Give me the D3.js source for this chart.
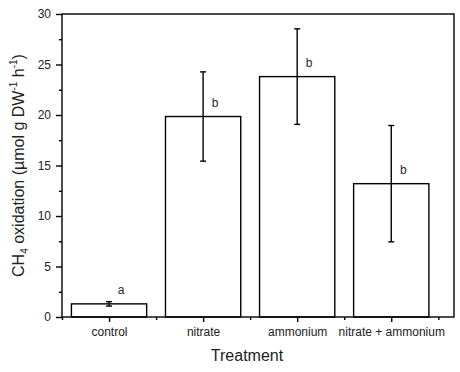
<!DOCTYPE html>
<html>
<head>
<meta charset="utf-8">
<script src="https://cdn.jsdelivr.net/npm/d3@7"></script>
<style>
  body { margin: 0; background: #fff; }
  svg { display: block; font-family: "Liberation Sans", Arial, sans-serif; }
</style>
</head>
<body>
<div id="chart"></div>
<script>
// Data
const treatments = ["control", "nitrate", "ammonium", "nitrate + ammonium"];
const means = [1.3, 19.85, 23.8, 13.2];
const errors = [0.22, 4.42, 4.73, 5.76];
const letters = ["a", "b", "b", "b"];
const yTicks = [0, 5, 10, 15, 20, 25, 30];

const width = 460, height = 372;
const margin = { top: 14, right: 6, bottom: 55, left: 62 };
const innerW = width - margin.left - margin.right;
const innerH = height - margin.top - margin.bottom;

const svg = d3.select("#chart").append("svg")
    .attr("width", width)
    .attr("height", height);

const g = svg.append("g")
    .attr("transform", `translate(${margin.left},${margin.top})`);

// Category positions 1..n on a linear scale (Origin-like layout)
const x = d3.scaleLinear().domain([0.5, 4.667]).range([0, innerW]);
const y = d3.scaleLinear().domain([0, 30]).range([innerH, 0]);
const barW = x(1.4) - x(0.6);

// Bars
g.selectAll("rect.bar")
    .data(means)
    .enter().append("rect")
    .attr("class", "bar")
    .attr("x", (d, i) => x(i + 1) - barW / 2)
    .attr("y", d => y(d))
    .attr("width", barW)
    .attr("height", d => innerH - y(d))
    .attr("fill", "#fff")
    .attr("stroke", "#000")
    .attr("stroke-width", 1.4);

// Error bars
const capW = 3;
const eb = g.selectAll("g.err")
    .data(means)
    .enter().append("g")
    .attr("class", "err")
    .attr("stroke", "#000")
    .attr("stroke-width", 1.4);
eb.append("line")
    .attr("x1", (d, i) => x(i + 1)).attr("x2", (d, i) => x(i + 1))
    .attr("y1", (d, i) => y(d + errors[i])).attr("y2", (d, i) => y(d - errors[i]));
eb.append("line")
    .attr("x1", (d, i) => x(i + 1) - capW).attr("x2", (d, i) => x(i + 1) + capW)
    .attr("y1", (d, i) => y(d + errors[i])).attr("y2", (d, i) => y(d + errors[i]));
eb.append("line")
    .attr("x1", (d, i) => x(i + 1) - capW).attr("x2", (d, i) => x(i + 1) + capW)
    .attr("y1", (d, i) => y(d - errors[i])).attr("y2", (d, i) => y(d - errors[i]));

// Significance letters
g.selectAll("text.letter")
    .data(means)
    .enter().append("text")
    .attr("class", "letter")
    .attr("x", (d, i) => x(i + 1) + 12)
    .attr("y", d => y(d) - 10)
    .attr("text-anchor", "middle")
    .attr("font-size", 12)
    .attr("fill", "#2a2a2a")
    .text((d, i) => letters[i]);

// Frame
g.append("rect")
    .attr("width", innerW)
    .attr("height", innerH)
    .attr("fill", "none")
    .attr("stroke", "#000")
    .attr("stroke-width", 1.4);

// Y axis: major ticks with labels, minor ticks between
const yAxis = g.append("g")
    .call(d3.axisLeft(y).tickValues(yTicks).tickSize(6).tickPadding(5));
yAxis.select(".domain").remove();
yAxis.selectAll(".tick line").attr("stroke", "#000").attr("stroke-width", 1.4);
yAxis.selectAll(".tick text").attr("font-size", 12).attr("fill", "#222")
    .attr("font-family", "'Liberation Sans', Arial, sans-serif");

const yMinor = g.append("g")
    .call(d3.axisLeft(y).tickValues(d3.range(2.5, 30, 5)).tickSize(3).tickFormat(""));
yMinor.select(".domain").remove();
yMinor.selectAll(".tick line").attr("stroke", "#000").attr("stroke-width", 1.4);

// X axis: category ticks with labels, minor ticks between
const xAxis = g.append("g")
    .attr("transform", `translate(0,${innerH})`)
    .call(d3.axisBottom(x).tickValues([1, 2, 3, 4]).tickSize(5).tickPadding(5)
        .tickFormat((d, i) => treatments[i]));
xAxis.select(".domain").remove();
xAxis.selectAll(".tick line").attr("stroke", "#000").attr("stroke-width", 1.4);
xAxis.selectAll(".tick text").attr("font-size", 12).attr("fill", "#222")
    .attr("font-family", "'Liberation Sans', Arial, sans-serif");

const xMinor = g.append("g")
    .attr("transform", `translate(0,${innerH})`)
    .call(d3.axisBottom(x).tickValues([0.5, 1.5, 2.5, 3.5, 4.5]).tickSize(3).tickFormat(""));
xMinor.select(".domain").remove();
xMinor.selectAll(".tick line").attr("stroke", "#000").attr("stroke-width", 1.4);

// Axis titles
svg.append("text")
    .attr("x", 247)
    .attr("y", 361)
    .attr("text-anchor", "middle")
    .attr("font-size", 16)
    .attr("fill", "#222")
    .text("Treatment");

const yTitle = svg.append("text")
    .attr("transform", `translate(24,${margin.top + innerH / 2}) rotate(-90)`)
    .attr("text-anchor", "middle")
    .attr("font-size", 16)
    .attr("fill", "#222");
yTitle.append("tspan").text("CH");
yTitle.append("tspan").attr("font-size", 10).attr("dy", 4).text("4");
yTitle.append("tspan").attr("dy", -4).text(" oxidation (µmol g DW");
yTitle.append("tspan").attr("font-size", 10).attr("dy", -7).text("-1");
yTitle.append("tspan").attr("dy", 7).text(" h");
yTitle.append("tspan").attr("font-size", 10).attr("dy", -7).text("-1");
yTitle.append("tspan").attr("dy", 7).text(")");
</script>
</body>
</html>
